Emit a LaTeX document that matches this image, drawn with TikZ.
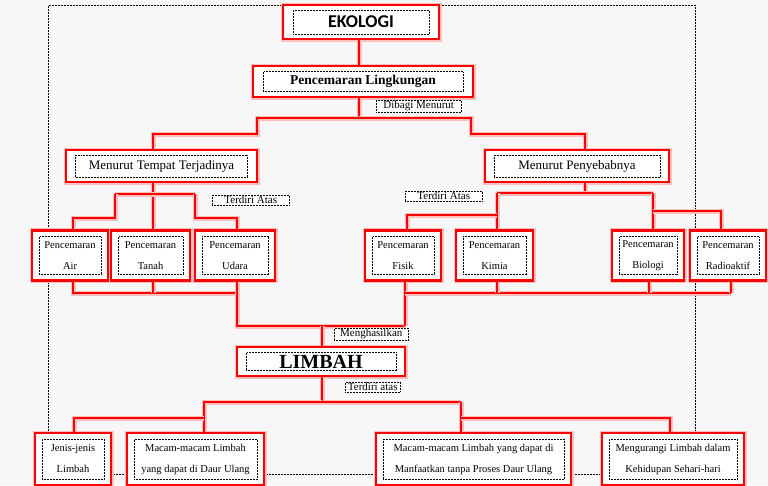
\documentclass[tikz,border=0pt]{standalone}
\usepackage{fontspec}
\setmainfont{Liberation Serif}
\newfontfamily\ekofont{Carlito}
\begin{document}
\begin{tikzpicture}[x=1pt,y=-1pt,
  glow/.style={preaction={draw=red!25,line width=5pt}},
  box/.style={draw=red,line width=2.4pt,glow,rectangle,inner sep=0pt},
  conn/.style={draw=red,line width=2.4pt,glow,line join=miter},
  tbox/.style={draw=black,densely dotted,line width=0.5pt,inner sep=1pt,align=center},
  small/.style={font=\fontsize{10.5}{21}\selectfont},
  lbl/.style={draw=black,densely dotted,line width=0.5pt,inner sep=1pt,fill=white,font=\fontsize{11}{12}\selectfont}]
\useasboundingbox[fill=white!97!black] (0,0) rectangle (768,485);
% outer dotted frame
\draw[black,densely dotted,line width=0.5pt] (48,432) -- (48,5) -- (695,5) -- (695,432);
\draw[black,densely dotted,line width=0.5pt] (48,474) -- (695,474);
% boxes
\node[box,minimum width=156,minimum height=34,fill=white] (eko) at (361,22) {};
\node[tbox,minimum width=136,minimum height=24,font=\ekofont\bfseries\fontsize{18}{20}\selectfont] at (eko) {EKOLOGI};
\node[box,minimum width=220,minimum height=31,fill=white] (pl) at (363,81.5) {};
\node[tbox,minimum width=200,minimum height=20,font=\bfseries\fontsize{13.5}{15}\selectfont] at (pl) {Pencemaran Lingkungan};
\node[box,minimum width=191,minimum height=32,fill=white] (mtt) at (161.5,166) {};
\node[tbox,minimum width=172,minimum height=22,font=\fontsize{13}{15}\selectfont] at (mtt) {Menurut Tempat Terjadinya};
\node[box,minimum width=184,minimum height=32,fill=white] (mp) at (577,166) {};
\node[tbox,minimum width=166,minimum height=22,font=\fontsize{13}{15}\selectfont] at (mp) {Menurut Penyebabnya};
% level 3
\foreach \n/\cx/\w/\t in {air/70/76/Air,tanah/150.5/79/Tanah,udara/235/80/Udara,fisik/403/76/Fisik,kimia/494.5/77/Kimia,bio/648/72/Biologi,radio/728/76/Radioaktif}{
  \node[box,minimum width=\w,minimum height=50,fill=white] (\n) at (\cx,255.5) {};
  \node[tbox,small,minimum width=\w-14,minimum height=38] at (\n) {Pencemaran\\\t};
}
% LIMBAH
\node[box,minimum width=168,minimum height=29,fill=white] (lim) at (321,361.5) {};
\node[tbox,minimum width=150,minimum height=18,font=\bfseries\fontsize{20}{20}\selectfont] at (lim) {LIMBAH};
% bottom
\foreach \n/\cx/\w/\ta/\tb in {jen/73/76/Jenis-jenis/Limbah,mac1/195.5/137/Macam-macam Limbah/yang dapat di Daur Ulang,mac2/473.5/195/Macam-macam Limbah yang dapat di/Manfaatkan tanpa Proses Daur Ulang,meng/673/142/Mengurangi Limbah dalam/Kehidupan Sehari-hari}{
  \node[box,minimum width=\w,minimum height=52,fill=white] (\n) at (\cx,459) {};
  \node[tbox,small,minimum width=\w-14,minimum height=40] at (\n) {\ta\\\tb};
}
% connectors
\draw[conn] (eko.south -| 359,0) -- (pl.north -| 359,0);
\draw[conn] (pl.south -| 359,0) -- (359,118) -- (257,118) -- (257,134) -- (153,134) -- (mtt.north -| 153,0);
\draw[conn] (359,118) -- (471,118) -- (471,134) -- (585,134) -- (mp.north -| 585,0);
\draw[conn] (mtt.south -| 153,0) -- (tanah.north -| 153,0);
\draw[conn] (115,194) -- (195,194);
\draw[conn] (115,194) -- (115,218) -- (73,218) -- (air.north -| 73,0);
\draw[conn] (195,194) -- (195,218) -- (237,218) -- (udara.north -| 237,0);
\draw[conn] (mp.south -| 585,0) -- (585,193);
\draw[conn] (497,193) -- (653,193);
\draw[conn] (497,193) -- (kimia.north -| 497,0);
\draw[conn] (497,215) -- (407,215) -- (fisik.north -| 407,0);
\draw[conn] (653,193) -- (bio.north -| 653,0);
\draw[conn] (653,211) -- (721,211) -- (radio.north -| 721,0);
\draw[conn] (air.south -| 73,0) -- (73,293) -- (237,293);
\draw[conn] (tanah.south -| 153,0) -- (153,293);
\draw[conn] (udara.south -| 237,0) -- (237,326) -- (405,326);
\draw[conn] (fisik.south -| 405,0) -- (405,326);
\draw[conn] (405,293) -- (731,293);
\draw[conn] (kimia.south -| 497,0) -- (497,293);
\draw[conn] (bio.south -| 649,0) -- (649,293);
\draw[conn] (radio.south -| 731,0) -- (731,293);
\draw[conn] (322,326) -- (lim.north -| 322,0);
\draw[conn] (lim.south -| 322,0) -- (322,402) -- (461,402);
\draw[conn] (322,402) -- (204,402) -- (mac1.north -| 204,0);
\draw[conn] (204,418) -- (74,418) -- (jen.north -| 74,0);
\draw[conn] (461,402) -- (mac2.north -| 461,0);
\draw[conn] (461,418) -- (670,418) -- (meng.north -| 670,0);
% labels
\node[lbl,minimum width=85,anchor=north west] (l1) at (376,100) {Dibagi Menurut};
\node[lbl,minimum width=77,anchor=north west] (l2) at (212,195) {Terdiri Atas};
\node[lbl,minimum width=77,anchor=north west] (l3) at (405,191) {Terdiri Atas};
\node[lbl,minimum width=74,anchor=north west] (l4) at (334,328) {Menghasilkan};
\node[lbl,minimum width=55,anchor=north west] (l5) at (345,382) {Terdiri atas};
\end{tikzpicture}
\end{document}
